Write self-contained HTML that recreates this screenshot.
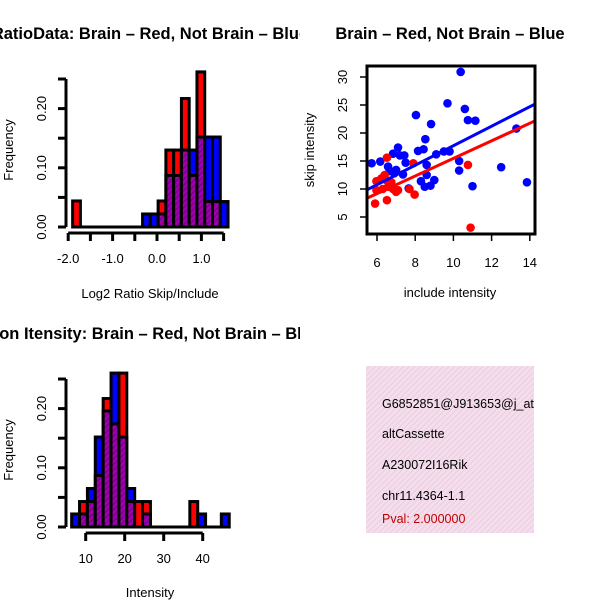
<!DOCTYPE html>
<html><head><meta charset="utf-8"><style>
body{margin:0;background:#fff}
svg{display:block;font-family:"Liberation Sans",sans-serif}
</style></head><body>
<svg id="c" width="600" height="600" viewBox="0 0 600 600">
<defs><pattern id="pk" width="4" height="4" patternUnits="userSpaceOnUse" patternTransform="rotate(45)"><rect width="4" height="4" fill="#f7dcef"/><rect width="1" height="4" fill="#e2d2d8"/></pattern>
<pattern id="pp" width="4" height="4" patternUnits="userSpaceOnUse" patternTransform="rotate(45)"><rect width="4" height="4" fill="#a000b0"/><rect width="1.5" height="4" fill="#7a0088"/></pattern>
<clipPath id="cl1"><rect x="0" y="0" width="300" height="300"/></clipPath>
<clipPath id="cl2"><rect x="0" y="300" width="300" height="300"/></clipPath>
</defs>
</svg>
<script>
// ---- top-left histogram data ----
const h1Start = -1.9, h1Width = 0.175;
const h1Red  = [0.044,0,0,0,0,0,0,0,0,0,0,0.044,0.13,0.13,0.217,0.087,0.262,0.043,0.043,0];
const h1Blue = [0,0,0,0,0,0,0,0,0,0.022,0.022,0.022,0.087,0.087,0.13,0.13,0.152,0.152,0.152,0.043];
const h1XTicks = [-2,-1.5,-1,-0.5,0,0.5,1,1.5];
const h1XLabels = ["-2.0","","-1.0","","0.0","","1.0",""];
const yTicks = [0,0.05,0.1,0.15,0.2,0.25];
const yLabels = ["0.00","","0.10","","0.20",""];
// ---- bottom-left histogram data ----
const h2Start = 6.4, h2Width = 2.02;
const h2Red  = [0,0.043,0.043,0.087,0.217,0.174,0.26,0.043,0.043,0.043,0,0,0,0,0,0.043,0,0,0,0];
const h2Blue = [0.022,0.022,0.065,0.152,0.196,0.26,0.152,0.065,0,0.022,0,0,0,0,0,0,0.022,0,0,0.022];
const h2XTicks = [10,20,30,40];
// ---- scatter data ----
const blueX = [10.38,9.69,10.6,10.76,11.15,8.04,8.83,13.3,8.53,8.44,8.15,7.1,6.84,7.2,7.43,9.1,9.5,9.8,7.5,6.17,5.72,6.58,10.3,10.3,8.6,7.0,7.36,8.6,8.3,9.0,8.8,8.5,7.66,11.0,12.5,13.85,6.66,6.9];
const blueY = [30.9,25.3,24.3,22.3,22.2,23.2,21.6,20.8,18.9,17.1,16.8,17.4,16.3,16,16,16.2,16.7,16.7,14.7,14.9,14.6,14,15,13.3,14.3,13.4,12.6,12.5,11.4,11.6,10.6,10.4,10.1,10.5,13.9,11.2,13.2,12.8];
const redX = [5.9,6.52,7.97,10.76,10.9,5.97,6.23,6.4,6.52,5.97,6.3,6.58,6.84,7.1,7.0,6.52,7.7,7.9,6.75];
const redY = [7.4,8.0,9.0,14.3,3.1,11.4,11.9,12.5,15.6,9.8,10,10.4,10,9.8,9.5,11.5,10,14.6,11.2];
const fitSlope = [1.74,1.57];      // blue, red
const fitIntercept = [0.33,-0.24];
const sXTicks = [6,8,10,12,14];
const sYTicks = [5,10,15,20,25,30];

const svg = document.getElementById('c');
const NS = 'http://www.w3.org/2000/svg';
function mk(tag, attrs, parent){const e=document.createElementNS(NS,tag);for(const k in attrs)e.setAttribute(k,attrs[k]);(parent||svg).appendChild(e);return e;}
function txt(x,y,s,attrs,parent){const e=mk('text',Object.assign({x:x,y:y},attrs||{}),parent);e.textContent=s;return e;}

function hist(name, start, width, red, blue, xf, y0, xTicks, xLabels, axisY){
  const g = mk('g',{});
  
  
  const yf = v => y0 - v*592;
  const n = red.length;
  mk('line',{x1:xf(start),x2:xf(start+n*width),y1:y0,y2:y0,stroke:'#000','stroke-width':3},g);
  for(let i=0;i<n;i++){
    const a=xf(start+i*width), b=xf(start+(i+1)*width);
    const r=red[i], bl=blue[i];
    if(r===0&&bl===0) continue;
    const hi=Math.max(r,bl), lo=Math.min(r,bl);
    const bar=mk('rect',{x:a,y:yf(hi),width:b-a,height:yf(0)-yf(hi),fill:r>=bl?'#ff0000':'#0000ff',stroke:'#000','stroke-width':3},g);
    
    
    if(lo>0){
      mk('rect',{x:a,y:yf(lo),width:b-a,height:yf(0)-yf(lo),fill:'url(#pp)',stroke:'#000','stroke-width':3},g);
    }
  }
  mk('line',{x1:66,x2:66,y1:yf(0),y2:yf(0.25),stroke:'#000','stroke-width':3},g);
  yTicks.forEach((t,i)=>{
    mk('line',{x1:58,x2:66,y1:yf(t),y2:yf(t),stroke:'#000','stroke-width':3},g);
    if(yLabels[i]) txt(46,yf(t),yLabels[i],{transform:`rotate(-90 46 ${yf(t)})`,'text-anchor':'middle','font-size':13},g);
  });
  mk('line',{x1:xf(xTicks[0]),x2:xf(xTicks[xTicks.length-1]),y1:axisY,y2:axisY,stroke:'#000','stroke-width':3},g);
  xTicks.forEach((t,i)=>{
    mk('line',{x1:xf(t),x2:xf(t),y1:axisY,y2:axisY+8,stroke:'#000','stroke-width':3},g);
    if(xLabels[i]) txt(xf(t),axisY+30,xLabels[i],{'text-anchor':'middle','font-size':13},g);
  });
  return g;
}
hist('ratio-histogram', h1Start, h1Width, h1Red, h1Blue, v=>157+v*44.4, 227, h1XTicks, h1XLabels, 233);
hist('intensity-histogram', h2Start, h2Width, h2Red, h2Blue, v=>85.7+(v-10)*3.9, 527, h2XTicks, h2XTicks.map(String), 533);

let t;
t=txt(150,39,'RatioData: Brain – Red, Not Brain – Blue',{'text-anchor':'middle','font-size':16.5,'font-weight':'bold','clip-path':'url(#cl1)'});

t=txt(150,298,'Log2 Ratio Skip/Include',{'text-anchor':'middle','font-size':13});

t=txt(13,150,'Frequency',{'text-anchor':'middle','font-size':13,transform:'rotate(-90 13 150)'});

t=txt(150,339,'Exon Itensity: Brain – Red, Not Brain – Blue',{'text-anchor':'middle','font-size':16.5,'font-weight':'bold','clip-path':'url(#cl2)'});

t=txt(150,597,'Intensity',{'text-anchor':'middle','font-size':13});

t=txt(13,450,'Frequency',{'text-anchor':'middle','font-size':13,transform:'rotate(-90 13 450)'});


const sx = v => 377+(v-6)*19.1;
const sy = v => 217-(v-5)*5.6;
const sg = mk('g',{});


const clip = mk('clipPath',{id:'sc'},sg); mk('rect',{x:367,y:66,width:169,height:168},clip);
const pg = mk('g',{'clip-path':'url(#sc)'},sg);
blueX.forEach((x,i)=>{const c=mk('circle',{cx:sx(x),cy:sy(blueY[i]),r:4.3,fill:'#0000ff'},pg);
  });
redX.forEach((x,i)=>{const c=mk('circle',{cx:sx(x),cy:sy(redY[i]),r:4.3,fill:'#ff0000'},pg);
  });
['#0000ff','#ff0000'].forEach((col,i)=>{
  const x1=5.3,x2=14.5;
  const l=mk('line',{x1:sx(x1),y1:sy(fitIntercept[i]+fitSlope[i]*x1),x2:sx(x2),y2:sy(fitIntercept[i]+fitSlope[i]*x2),stroke:col,'stroke-width':3},pg);
  
});
mk('rect',{x:367,y:66,width:168,height:168,fill:'none',stroke:'#000','stroke-width':3},sg);
sXTicks.forEach(v=>{mk('line',{x1:sx(v),x2:sx(v),y1:234,y2:241,stroke:'#000','stroke-width':1.5},sg);
  txt(sx(v),267,String(v),{'text-anchor':'middle','font-size':13},sg);});
sYTicks.forEach(v=>{mk('line',{x1:360,x2:367,y1:sy(v),y2:sy(v),stroke:'#000','stroke-width':1.5},sg);
  txt(347,sy(v),String(v),{'text-anchor':'middle','font-size':13,transform:`rotate(-90 347 ${sy(v)})`},sg);});
t=txt(450,39,'Brain – Red, Not Brain – Blue',{'text-anchor':'middle','font-size':16.5,'font-weight':'bold'});

t=txt(450,297,'include intensity',{'text-anchor':'middle','font-size':13});

t=txt(314,150,'skip intensity',{'text-anchor':'middle','font-size':13,transform:'rotate(-90 314 150)'});


const ib = mk('g',{});


const ic = mk('clipPath',{id:'ic'},ib); mk('rect',{x:366,y:366,width:168,height:167},ic);
mk('rect',{x:366,y:366,width:168,height:167,fill:'url(#pk)'},ib);
const ig = mk('g',{'clip-path':'url(#ic)'},ib);
[['G6852851@J913653@j_at',408,'#000'],['altCassette',438,'#000'],['A230072I16Rik',469,'#000'],['chr11.4364-1.1',500,'#000'],['Pval: 2.000000',523,'#c00000']].forEach(r=>{
  const e=txt(382,r[1],r[0],{'font-size':12.5,fill:r[2]},ig);
  
});
</script>
</body></html>
